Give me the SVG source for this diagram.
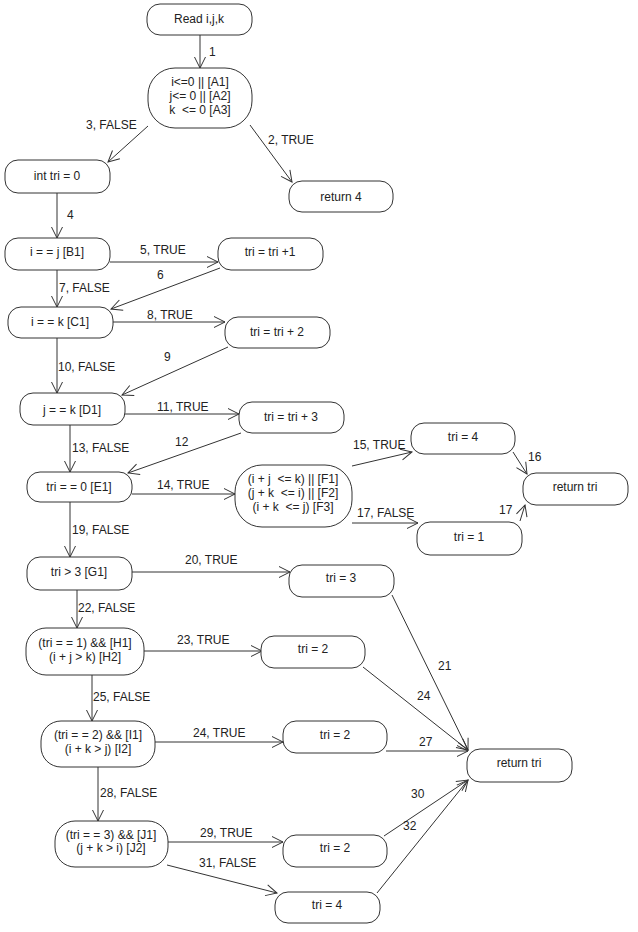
<svg xmlns="http://www.w3.org/2000/svg" width="638" height="932" viewBox="0 0 638 932">
<style>
text{font-family:"Liberation Sans",Arial,sans-serif;font-size:12px;fill:#222}
.n rect{fill:#fff;stroke:#333;stroke-width:1}
.n text{text-anchor:middle;white-space:pre}
.e line{stroke:#333;stroke-width:1;marker-end:url(#ah)}
</style>
<defs>
<marker id="ah" markerUnits="userSpaceOnUse" markerWidth="14" markerHeight="14" viewBox="-12 -7 14 14" refX="0" refY="0" orient="auto">
<path d="M-11,-5.5 L0,0 L-11,5.5" fill="none" stroke="#333" stroke-width="1"/>
</marker>
</defs>
<rect width="638" height="932" fill="#fff"/>
<g class="e" id="connectors">
<line x1="200" y1="35" x2="200" y2="68"/>
<line x1="250" y1="125" x2="292" y2="182"/>
<line x1="148" y1="126" x2="108" y2="162"/>
<line x1="57" y1="193" x2="57" y2="238"/>
<line x1="110" y1="262" x2="218" y2="262"/>
<line x1="220" y1="268" x2="111" y2="309"/>
<line x1="57" y1="270" x2="57" y2="307"/>
<line x1="113" y1="322" x2="225" y2="322"/>
<line x1="228" y1="347" x2="122" y2="395"/>
<line x1="57" y1="338" x2="57" y2="393"/>
<line x1="125" y1="414" x2="239" y2="414"/>
<line x1="241" y1="433" x2="128" y2="473"/>
<line x1="70" y1="425" x2="70" y2="472"/>
<line x1="132" y1="494" x2="235" y2="494"/>
<line x1="352" y1="466" x2="412" y2="452"/>
<line x1="513" y1="452" x2="527" y2="474"/>
<line x1="352" y1="523" x2="418" y2="523"/>
<line x1="520" y1="521" x2="525" y2="505"/>
<line x1="70" y1="502" x2="70" y2="557"/>
<line x1="132" y1="572" x2="290" y2="572"/>
<line x1="77" y1="590" x2="77" y2="628"/>
<line x1="144" y1="651" x2="262" y2="651"/>
<line x1="92" y1="675" x2="92" y2="721"/>
<line x1="155" y1="742" x2="283" y2="742"/>
<line x1="98" y1="767" x2="98" y2="821"/>
<line x1="168" y1="842" x2="283" y2="842"/>
<line x1="167" y1="865" x2="277" y2="893"/>
<line x1="392" y1="595" x2="468" y2="750"/>
<line x1="363" y1="667" x2="468" y2="750"/>
<line x1="386" y1="751" x2="468" y2="751"/>
<line x1="384" y1="836" x2="468" y2="780"/>
<line x1="377" y1="893" x2="468" y2="780"/>
</g>
<g id="edge-labels">
<text x="209" y="56">1</text>
<text x="268" y="144">2, TRUE</text>
<text x="86" y="129">3, FALSE</text>
<text x="67" y="219">4</text>
<text x="140" y="254">5, TRUE</text>
<text x="157" y="279">6</text>
<text x="59" y="292">7, FALSE</text>
<text x="147" y="319">8, TRUE</text>
<text x="164" y="361">9</text>
<text x="58" y="371">10, FALSE</text>
<text x="157" y="411">11, TRUE</text>
<text x="175" y="446">12</text>
<text x="72" y="452">13, FALSE</text>
<text x="157" y="489">14, TRUE</text>
<text x="353" y="449">15, TRUE</text>
<text x="528" y="461">16</text>
<text x="357" y="517">17, FALSE</text>
<text x="499" y="514">17</text>
<text x="72" y="534">19, FALSE</text>
<text x="185" y="564">20, TRUE</text>
<text x="438" y="670">21</text>
<text x="78" y="612">22, FALSE</text>
<text x="177" y="644">23, TRUE</text>
<text x="417" y="700">24</text>
<text x="193" y="737">24, TRUE</text>
<text x="93" y="701">25, FALSE</text>
<text x="419" y="746">27</text>
<text x="100" y="797">28, FALSE</text>
<text x="200" y="837">29, TRUE</text>
<text x="411" y="798">30</text>
<text x="199" y="867">31, FALSE</text>
<text x="403" y="830">32</text>
</g>
<g class="n" id="read"><rect x="147" y="4" width="105" height="31" rx="13"/><text x="199" y="23">Read i,j,k</text></g>
<g class="n" id="A"><rect x="148" y="68" width="104" height="60" rx="27"/><text x="200" y="86">i&lt;=0 || [A1]</text><text x="200" y="100">j&lt;= 0 || [A2]</text><text x="200" y="114">k  &lt;= 0 [A3]</text></g>
<g class="n" id="ret4"><rect x="289" y="181" width="104" height="31" rx="13"/><text x="341" y="201">return 4</text></g>
<g class="n" id="init"><rect x="5" y="160" width="105" height="33" rx="13"/><text x="57" y="180">int tri = 0</text></g>
<g class="n" id="B"><rect x="5" y="238" width="105" height="32" rx="13"/><text x="57" y="256">i = = j [B1]</text></g>
<g class="n" id="tri1"><rect x="218" y="238" width="105" height="32" rx="13"/><text x="270" y="256">tri = tri +1</text></g>
<g class="n" id="C"><rect x="8" y="307" width="105" height="31" rx="13"/><text x="60" y="326">i = = k [C1]</text></g>
<g class="n" id="tri2"><rect x="225" y="317" width="105" height="31" rx="13"/><text x="277" y="336">tri = tri + 2</text></g>
<g class="n" id="D"><rect x="20" y="393" width="105" height="32" rx="13"/><text x="72" y="414">j = = k [D1]</text></g>
<g class="n" id="tri3"><rect x="239" y="402" width="105" height="31" rx="13"/><text x="291" y="421">tri = tri + 3</text></g>
<g class="n" id="E"><rect x="27" y="472" width="105" height="30" rx="13"/><text x="79" y="491">tri = = 0 [E1]</text></g>
<g class="n" id="F"><rect x="235" y="465" width="117" height="62" rx="27"/><text x="293" y="483">(i + j  &lt;= k) || [F1]</text><text x="293" y="497">(j + k  &lt;= i) || [F2]</text><text x="293" y="511">(i + k  &lt;= j) [F3]</text></g>
<g class="n" id="t4a"><rect x="411" y="423" width="104" height="31" rx="13"/><text x="463" y="441">tri = 4</text></g>
<g class="n" id="rtA"><rect x="523" y="473" width="105" height="32" rx="13"/><text x="575" y="491">return tri</text></g>
<g class="n" id="t1"><rect x="417" y="522" width="105" height="33" rx="13"/><text x="469" y="541">tri = 1</text></g>
<g class="n" id="G"><rect x="27" y="557" width="105" height="33" rx="13"/><text x="79" y="576">tri &gt; 3 [G1]</text></g>
<g class="n" id="t3"><rect x="289" y="565" width="105" height="32" rx="13"/><text x="341" y="582">tri = 3</text></g>
<g class="n" id="H"><rect x="26" y="628" width="118" height="47" rx="20"/><text x="85" y="647">(tri = = 1) &amp;&amp; [H1]</text><text x="85" y="661">(i + j &gt; k) [H2]</text></g>
<g class="n" id="t2a"><rect x="261" y="636" width="104" height="32" rx="13"/><text x="313" y="653">tri = 2</text></g>
<g class="n" id="I"><rect x="41" y="721" width="114" height="46" rx="20"/><text x="98" y="739">(tri = = 2) &amp;&amp; [I1]</text><text x="98" y="753">(i + k &gt; j) [I2]</text></g>
<g class="n" id="t2b"><rect x="283" y="721" width="104" height="32" rx="13"/><text x="335" y="739">tri = 2</text></g>
<g class="n" id="rtB"><rect x="467" y="749" width="105" height="33" rx="13"/><text x="519" y="767">return tri</text></g>
<g class="n" id="J"><rect x="55" y="821" width="113" height="46" rx="20"/><text x="111" y="839">(tri = = 3) &amp;&amp; [J1]</text><text x="111" y="852">(j + k &gt; i) [J2]</text></g>
<g class="n" id="t2c"><rect x="283" y="835" width="104" height="32" rx="13"/><text x="335" y="852">tri = 2</text></g>
<g class="n" id="t4b"><rect x="275" y="892" width="105" height="31" rx="13"/><text x="327" y="909">tri = 4</text></g>
</svg>
